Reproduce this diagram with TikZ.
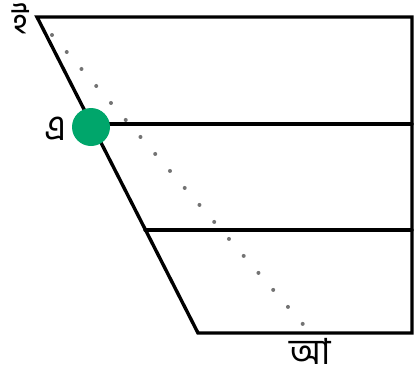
\documentclass[tikz,border=0pt]{standalone}
\usepackage{fontspec}
\newfontfamily\bengali[Script=Bengali]{Hind Siliguri}
\definecolor{dotgreen}{RGB}{0,166,107}
\tikzset{
  chartline/.style={line width=3.4pt, line cap=round},
  vowel/.style={font=\bengali\fontsize{36}{36}\selectfont, inner sep=0pt,
    text depth=0pt, anchor=base}
}

\begin{document}
\begin{tikzpicture}[x=1pt, y=-1pt]
  \useasboundingbox (0,0) rectangle (414,376);
  \coordinate (tl) at (37,17);
  \coordinate (tr) at (412,17);
  \coordinate (bl) at (198,333);
  \coordinate (br) at (412,333);
  \coordinate (m1l) at (90,124);
  \coordinate (m1r) at (412,124);
  \coordinate (m2l) at (145,230);
  \coordinate (m2r) at (412,230);

  \draw[chartline] (tl) -- (tr) -- (br) -- (bl) -- cycle;
  \draw[chartline] (m1l) -- (m1r);
  \draw[chartline] (m2l) -- (m2r);

  \coordinate (d1) at (52,35);
  \coordinate (d2) at (308,330);
  \draw[black!55, line width=4pt, line cap=round, dash pattern=on 0pt off 22.5pt] (d1) -- (d2);

  \node[circle, fill=dotgreen, minimum size=38pt, inner sep=0pt] (e) at (91,127) {};

  \draw (21,33) node[vowel] (i) {ই};
  \draw (55,140) node[vowel] (ea) {এ};
  \draw (310,364) node[vowel] (aa) {আ};
\end{tikzpicture}
\end{document}
